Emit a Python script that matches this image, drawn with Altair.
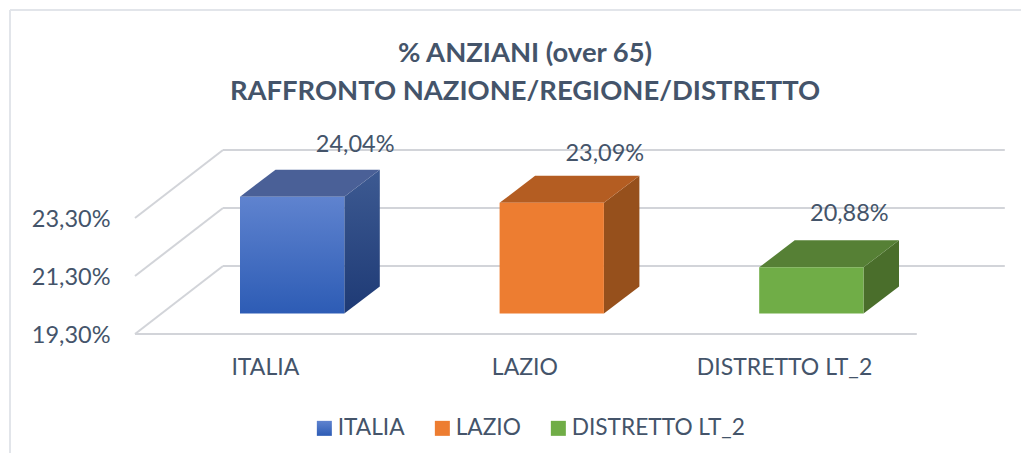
import altair as alt
import pandas as pd

CATEGORIES = ["ITALIA", "LAZIO", "DISTRETTO LT_2"]
VALUES = [24.04, 23.09, 20.88]
TICKS = [19.3, 21.3, 23.3]
LABELS = ["24,04%", "23,09%", "20,88%"]
TOP_COLORS = ["#4a6097", "#b45d22", "#568035"]
LABEL_SHIFT_PX = [(63, 52), (53, 49), (38, 53)]

FONT = "Lato"
TEXT = "#44546a"
GRID = "#d2d4d9"
FRAME = "#e2e5ea"
BLUE_FRONT = ("{gradient:'linear',x1:0,y1:0,x2:0,y2:1,stops:["
              "{offset:0,color:'#5f83cf'},{offset:1,color:'#2d5cb5'}]}")
FRONT_RANGE = [alt.ExprRef(BLUE_FRONT), "#ed7d31", "#70ad47"]
SIDE_FILLS = [
    alt.Gradient(gradient="linear", x1=0, y1=0, x2=0, y2=1,
                 stops=[alt.GradientStop(offset=0, color="#3d5a92"),
                        alt.GradientStop(offset=1, color="#1e3a75")]),
    "#96501c",
    "#4a6e2b",
]

W, H = 1012, 444
XU, YU = 259.6, 29.0          # pixels per x slot / per percentage point
X0, Y0 = 126.0, 325.0         # pixel position of the floor's front-left corner in the view
XDOM = [-X0 / XU, (W - X0) / XU]
YMIN = TICKS[0]
YDOM = [YMIN - (H - Y0) / YU, YMIN + Y0 / YU]
xs = alt.Scale(domain=XDOM, nice=False, zero=False)
ys = alt.Scale(domain=YDOM, nice=False, zero=False)

GX, GY = 88 / XU, 68 / YU     # depth of the floor
BX, BY = 35.5 / XU, 27 / YU   # depth of each bar
B_START, B_W = 105 / XU, 104.3 / XU
B_LIFT = 20.5 / YU
B_SCALE = 1.007
AX_MAX = TICKS[-1]
EXT = 3 / XU

bars = []
for i, (c, v) in enumerate(zip(CATEGORIES, VALUES)):
    x0 = i + B_START
    bars.append(dict(cat=c, i=i, x0=x0, x1=x0 + B_W, yb=YMIN + B_LIFT,
                     yt=YMIN + B_LIFT + (min(v, AX_MAX) - YMIN) * B_SCALE))
bars = pd.DataFrame(bars)

axis_y = alt.Axis(values=TICKS, grid=False, domain=False, ticks=False, title=None,
                  labelExpr="replace(format(datum.value,'.2f'),'.',',')+'%'",
                  labelPadding=-101, labelAlign="right", labelFontSize=23.5, labelOffset=1,
                  labelFont=FONT, labelColor=TEXT, labelBaseline="middle")
cat_expr = "[" + ",".join(f"'{c}'" for c in CATEGORIES) + "][datum.value-0.5]"
axis_x = alt.Axis(values=[i + 0.5 for i in range(len(CATEGORIES))], grid=False, domain=False,
                  ticks=False, title=None, labelExpr=cat_expr, offset=-86, labelPadding=0,
                  labelBaseline="middle", labelFontSize=23, labelFont=FONT,
                  labelColor=TEXT, labelOverlap=False, labelFlush=False, labelLimit=400)


def X(f):
    return alt.X(f, scale=xs, axis=axis_x)


def Y(f):
    return alt.Y(f, scale=ys, axis=axis_y)


# chart frame (top and left edges only)
fx, fy = XDOM[0] + 1 / XU, YDOM[1] - 1 / YU
frame = alt.Chart(pd.DataFrame([
    dict(x=fx, x2=XDOM[1], y=fy, y2=fy),
    dict(x=fx, x2=fx, y=fy, y2=YDOM[0]),
])).mark_rule(color=FRAME, strokeWidth=2).encode(x=X("x:Q"), x2="x2:Q", y=Y("y:Q"), y2="y2:Q")

# back walls, floor lines
grid_rows = []
for t in TICKS:
    grid_rows.append(dict(x=GX, x2=3 + GX + EXT, y=t + GY, y2=t + GY))
    grid_rows.append(dict(x=0, x2=GX, y=t, y2=t + GY))
grid_rows.append(dict(x=0, x2=3 + EXT, y=YMIN, y2=YMIN))
grid = alt.Chart(pd.DataFrame(grid_rows)).mark_rule(color=GRID, strokeWidth=2).encode(
    x=X("x:Q"), x2="x2:Q", y=Y("y:Q"), y2="y2:Q")

layers = [frame, grid]
for i, r in bars.iterrows():
    side = pd.DataFrame([
        dict(x=r.x1, y=r.yb, y2=r.yt),
        dict(x=r.x1 + BX, y=r.yb + BY, y2=r.yt + BY)])
    layers.append(alt.Chart(side).mark_area(color=SIDE_FILLS[i], line=False).encode(
        x=X("x:Q"), y=Y("y:Q"), y2="y2:Q"))
    top = pd.DataFrame([
        dict(y=r.yt, x=r.x0, x2=r.x1),
        dict(y=r.yt + BY, x=r.x0 + BX, x2=r.x1 + BX)])
    layers.append(alt.Chart(top).mark_area(color=TOP_COLORS[i], orient="horizontal").encode(
        y=Y("y:Q"), x=X("x:Q"), x2="x2:Q"))

front = alt.Chart(bars).mark_rect().encode(
    x=X("x0:Q"), x2="x1:Q",
    y=Y("yb:Q"), y2="yt:Q",
    color=alt.Color("cat:N", sort=CATEGORIES,
                    scale=alt.Scale(domain=CATEGORIES, range=FRONT_RANGE),
                    legend=alt.Legend(title=None, orient="none", legendX=304, legendY=408,
                                      direction="horizontal", columns=3, gridAlign="none",
                                      symbolType="square", symbolSize=225, symbolStrokeWidth=0,
                                      labelFont=FONT, labelFontSize=22.7, labelColor=TEXT,
                                      labelOffset=2, columnPadding=26, labelLimit=400)))
layers.append(front)

lab = bars.copy()
lab["label"] = LABELS
lab["lx"] = [r.x0 + B_W / 2 + LABEL_SHIFT_PX[i][0] / XU for i, r in bars.iterrows()]
lab["ly"] = [r.yt + LABEL_SHIFT_PX[i][1] / YU for i, r in bars.iterrows()]
layers.append(alt.Chart(lab).mark_text(font=FONT, fontSize=23.5, color=TEXT, baseline="middle").encode(
    x=X("lx:Q"), y=Y("ly:Q"), text="label:N"))

chart = alt.layer(*layers).properties(
    width=W, height=H,
    autosize=alt.AutoSizeParams(type="none"),
    padding={"left": 1, "top": 1, "right": 0, "bottom": 0},
    title=alt.TitleParams(text=["% ANZIANI (over 65)", "RAFFRONTO NAZIONE/REGIONE/DISTRETTO"],
                          font=FONT, fontSize=27.4, fontWeight="bold", color=TEXT, anchor="middle",
                          lineHeight=38, baseline="top", offset=-96, dx=10),
).configure_view(stroke=None)

chart.save("out.html", embed_options={"renderer": "svg", "actions": False})
